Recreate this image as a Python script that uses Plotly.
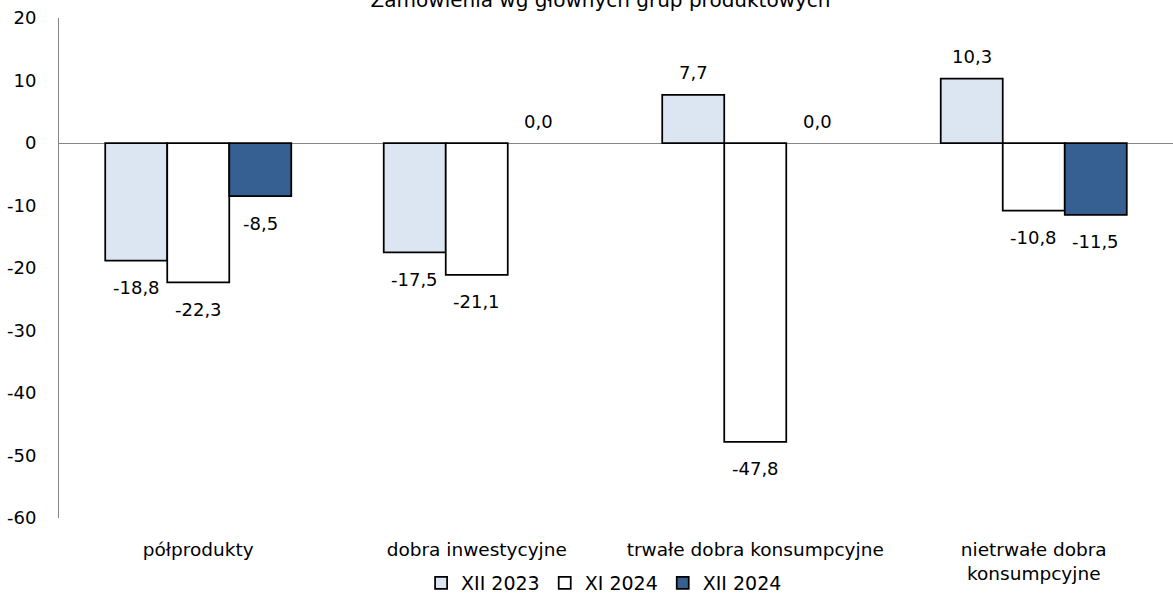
import plotly.graph_objects as go

categories = ["półprodukty", "dobra inwestycyjne", "trwałe dobra konsumpcyjne", "nietrwałe dobra<br>konsumpcyjne"]
series_names = ["XII 2023", "XI 2024", "XII 2024"]
xii_2023 = [-18.8, -17.5, 7.7, 10.3]
xi_2024 = [-22.3, -21.1, -47.8, -10.8]
xii_2024 = [-8.5, 0.0, 0.0, -11.5]
series_values = [xii_2023, xi_2024, xii_2024]
colors = ["#DCE6F2", "#FFFFFF", "#376092"]
title_text = "Zamówienia wg głównych grup produktowych"
y_ticks = [20, 10, 0, -10, -20, -30, -40, -50, -60]

FONT = "DejaVu Sans"
FS = 18
BARGAP = 0.332

fig = go.Figure()
for name, vals, col in zip(series_names, series_values, colors):
    fig.add_trace(go.Bar(
        x=categories, y=vals, name=name,
        marker=dict(color=col,
                    line=dict(color="#000000", width=[1.75 if v != 0 else 0 for v in vals])),
    ))

def fmt(v):
    return f"{v:.1f}".replace(".", ",")

bw = (1 - BARGAP) / len(series_names)
for j, vals in enumerate(series_values):
    for i, v in enumerate(vals):
        fig.add_annotation(
            x=i + (j - (len(series_names) - 1) / 2) * bw, y=v,
            xref="x", yref="y", text=fmt(v), showarrow=False,
            yanchor="middle", xanchor="center",
            yshift=22 if v >= 0 else -27,
            font=dict(family=FONT, size=FS, color="#000000"),
        )

fig.update_layout(
    width=1173, height=601,
    margin=dict(l=59, r=0, t=18, b=83, autoexpand=False),
    paper_bgcolor="white", plot_bgcolor="white",
    barmode="group", bargap=BARGAP, bargroupgap=0,
    font=dict(family=FONT, size=FS, color="#000000"),
    title=dict(text=title_text, x=0.512, xanchor="center", y=1.0, yanchor="middle",
               yref="container", font=dict(family=FONT, size=20, color="#000000")),
    showlegend=True,
    legend=dict(orientation="h", x=0.515, xanchor="center", xref="container",
                y=0.03, yanchor="middle", yref="container",
                font=dict(family=FONT, size=19), itemwidth=30,
                traceorder="normal"),
    xaxis=dict(showline=False, showgrid=False, zeroline=False, ticks="", automargin=False,
               ticklabelstandoff=18, tickfont=dict(family=FONT, size=18.5)),
    yaxis=dict(range=[-60, 20], tickvals=y_ticks, ticktext=[str(t) for t in y_ticks],
               showline=True, linecolor="#868686", linewidth=1, automargin=False,
               showgrid=False, zeroline=True, zerolinecolor="#868686", zerolinewidth=1,
               ticks="", ticklabelstandoff=18, tickfont=dict(family=FONT, size=FS)),
)

fig.write_html("out.html", config={"displayModeBar": False},
               post_script="document.body.style.margin='0';")
